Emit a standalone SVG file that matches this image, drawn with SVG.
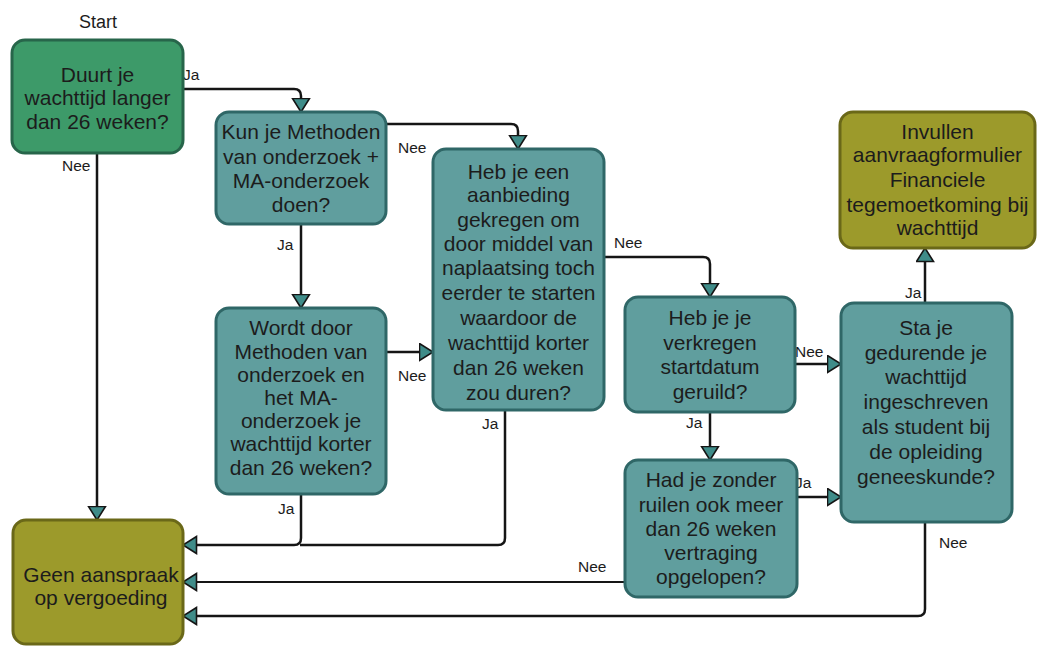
<svg xmlns="http://www.w3.org/2000/svg" width="1037" height="650" viewBox="0 0 1037 650">
<defs>
<style>
.box{stroke-width:3}
.green{fill:#3d9a69;stroke:#27654a}
.teal{fill:#609e9e;stroke:#2f6767}
.olive{fill:#9c9a2b;stroke:#6a6818}
.t{font-family:"Liberation Sans",Arial,sans-serif;font-size:21px;fill:#1c1c1c;text-anchor:middle}
.lbl{font-family:"Liberation Sans",Arial,sans-serif;font-size:15.5px;fill:#1c1c1c}
.ln{fill:none;stroke:#151515;stroke-width:2.5;stroke-linejoin:round}
</style>
<marker id="ah" markerUnits="userSpaceOnUse" markerWidth="18" markerHeight="20" refX="14.5" refY="9.5" orient="auto">
<path d="M1,1 L14.5,9.5 L1,18 Z" fill="#3f8c89" stroke="#151515" stroke-width="1.6" stroke-linejoin="miter"/>
</marker>
</defs>
<rect width="1037" height="650" fill="#ffffff"/>

<text class="lbl" x="98" y="28" text-anchor="middle" style="font-size:18px">Start</text>

<g id="connectors">
<path class="ln" d="M183,89 H294 Q301,89 301,96 V112" marker-end="url(#ah)"/>
<path class="ln" d="M97,153 V520" marker-end="url(#ah)"/>
<path class="ln" d="M301,224 V308" marker-end="url(#ah)"/>
<path class="ln" d="M386,124 H511 Q518,124 518,131 V149" marker-end="url(#ah)"/>
<path class="ln" d="M386,352 H433" marker-end="url(#ah)"/>
<path class="ln" d="M301,494 V538 Q301,545 294,545 H183" marker-end="url(#ah)"/>
<path class="ln" d="M505,410 V538 Q505,545 498,545 H300"/>
<path class="ln" d="M604,257 H703 Q710,257 710,264 V297" marker-end="url(#ah)"/>
<path class="ln" d="M795,364 H841" marker-end="url(#ah)"/>
<path class="ln" d="M710,412 V460" marker-end="url(#ah)"/>
<path class="ln" d="M797,497 H841" marker-end="url(#ah)"/>
<path class="ln" d="M625,582 H183" marker-end="url(#ah)" style="stroke-width:2"/>
<path class="ln" d="M925,522 V609 Q925,616 918,616 H183" marker-end="url(#ah)"/>
<path class="ln" d="M925,303 V248" marker-end="url(#ah)"/>

<text class="lbl" x="183" y="80">Ja</text>
<text class="lbl" x="62" y="171">Nee</text>
<text class="lbl" x="277" y="250">Ja</text>
<text class="lbl" x="398" y="153">Nee</text>
<text class="lbl" x="398" y="381">Nee</text>
<text class="lbl" x="278" y="514">Ja</text>
<text class="lbl" x="482" y="429">Ja</text>
<text class="lbl" x="614" y="248">Nee</text>
<text class="lbl" x="795" y="357">Nee</text>
<text class="lbl" x="686" y="428">Ja</text>
<text class="lbl" x="795" y="488">Ja</text>
<text class="lbl" x="578" y="572">Nee</text>
<text class="lbl" x="939" y="548">Nee</text>
<text class="lbl" x="905" y="298">Ja</text>
</g>

<g id="n1">
<rect class="box green" x="12" y="40" width="171" height="113" rx="13"/>
<text class="t" x="97.5" y="82">Duurt je</text>
<text class="t" x="97.5" y="105">wachttijd langer</text>
<text class="t" x="97.5" y="129">dan 26 weken?</text>
</g>

<g id="n2">
<rect class="box teal" x="216" y="112" width="170" height="112" rx="13"/>
<text class="t" x="301" y="139">Kun je Methoden</text>
<text class="t" x="301" y="164">van onderzoek +</text>
<text class="t" x="301" y="188">MA-onderzoek</text>
<text class="t" x="301" y="212">doen?</text>
</g>

<g id="n3">
<rect class="box teal" x="216" y="308" width="170" height="186" rx="13"/>
<text class="t" x="301" y="335">Wordt door</text>
<text class="t" x="301" y="359">Methoden van</text>
<text class="t" x="301" y="382">onderzoek en</text>
<text class="t" x="301" y="405">het MA-</text>
<text class="t" x="301" y="428">onderzoek je</text>
<text class="t" x="301" y="451">wachttijd korter</text>
<text class="t" x="301" y="475">dan 26 weken?</text>
</g>

<g id="n4">
<rect class="box teal" x="433" y="149" width="171" height="261" rx="13"/>
<text class="t" x="518.5" y="179">Heb je een</text>
<text class="t" x="518.5" y="202">aanbieding</text>
<text class="t" x="518.5" y="227">gekregen om</text>
<text class="t" x="518.5" y="251">door middel van</text>
<text class="t" x="518.5" y="275">naplaatsing toch</text>
<text class="t" x="518.5" y="300">eerder te starten</text>
<text class="t" x="518.5" y="325">waardoor de</text>
<text class="t" x="518.5" y="350">wachttijd korter</text>
<text class="t" x="518.5" y="375">dan 26 weken</text>
<text class="t" x="518.5" y="400">zou duren?</text>
</g>

<g id="n5">
<rect class="box teal" x="625" y="297" width="170" height="115" rx="13"/>
<text class="t" x="710" y="325">Heb je je</text>
<text class="t" x="710" y="350">verkregen</text>
<text class="t" x="710" y="374">startdatum</text>
<text class="t" x="710" y="399">geruild?</text>
</g>

<g id="n6">
<rect class="box teal" x="625" y="460" width="172" height="137" rx="13"/>
<text class="t" x="711" y="487">Had je zonder</text>
<text class="t" x="711" y="512">ruilen ook meer</text>
<text class="t" x="711" y="536">dan 26 weken</text>
<text class="t" x="711" y="560">vertraging</text>
<text class="t" x="711" y="584">opgelopen?</text>
</g>

<g id="n7">
<rect class="box teal" x="841" y="303" width="171" height="219" rx="13"/>
<text class="t" x="926" y="335">Sta je</text>
<text class="t" x="926" y="360">gedurende je</text>
<text class="t" x="926" y="384">wachttijd</text>
<text class="t" x="926" y="409">ingeschreven</text>
<text class="t" x="926" y="434">als student bij</text>
<text class="t" x="926" y="459">de opleiding</text>
<text class="t" x="926" y="484">geneeskunde?</text>
</g>

<g id="n8">
<rect class="box olive" x="840" y="112" width="195" height="136" rx="13"/>
<text class="t" x="937.5" y="139">Invullen</text>
<text class="t" x="937.5" y="162">aanvraagformulier</text>
<text class="t" x="937.5" y="187">Financiele</text>
<text class="t" x="937.5" y="212">tegemoetkoming bij</text>
<text class="t" x="937.5" y="235">wachttijd</text>
</g>

<g id="n9">
<rect class="box olive" x="13" y="520" width="170" height="124" rx="13"/>
<text class="t" x="101" y="582">Geen aanspraak</text>
<text class="t" x="101" y="605">op vergoeding</text>
</g>
</svg>
